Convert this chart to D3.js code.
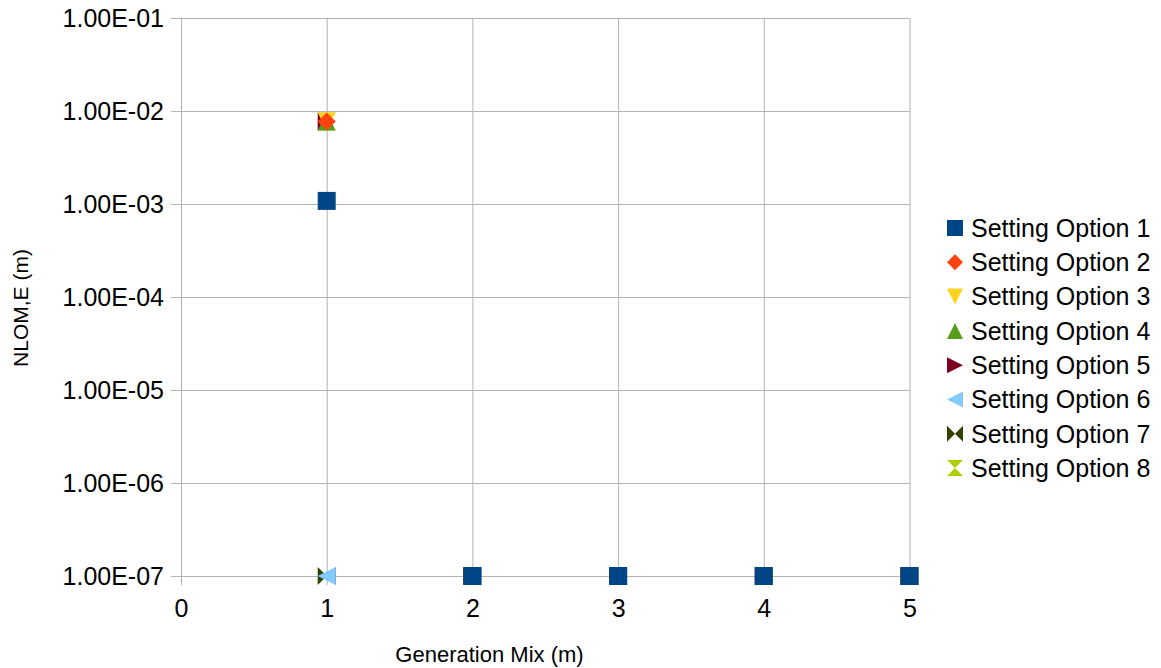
<!DOCTYPE html>
<html><head><meta charset="utf-8">
<script src="https://cdn.jsdelivr.net/npm/d3@7"></script>
<style>body{margin:0;background:#fff}svg{display:block;font-family:"Liberation Sans",Arial,sans-serif}</style>
</head><body><svg id="c" width="1161" height="668"></svg>
<script>
const seriesNames = ["Setting Option 1","Setting Option 2","Setting Option 3","Setting Option 4","Setting Option 5","Setting Option 6","Setting Option 7","Setting Option 8"];
const seriesColors = ["#004586","#ff420e","#ffd320","#579d1c","#7e0021","#83caff","#314004","#aecf00"];
const seriesShapes = ["square","diamond","down","up","right","left","bowtie","hourglass"];
const xValues = [1,2,3,4,5];
const s1 = [1.08e-3,1e-7,1e-7,1e-7,1e-7];
const s2 = [7.7e-3,1e-7,1e-7,1e-7,1e-7];
const s3 = [7.7e-3,1e-7,1e-7,1e-7,1e-7];
const s4 = [7.7e-3,1e-7,1e-7,1e-7,1e-7];
const s5 = [7.7e-3,1e-7,1e-7,1e-7,1e-7];
const s6 = [1e-7,1e-7,1e-7,1e-7,1e-7];
const s7 = [1e-7,1e-7,1e-7,1e-7,1e-7];
const s8 = [7.7e-3,1e-7,1e-7,1e-7,1e-7];
const seriesValues = [s1,s2,s3,s4,s5,s6,s7,s8];
const yTicks = [1e-7,1e-6,1e-5,1e-4,1e-3,1e-2,1e-1];
const xTicks = [0,1,2,3,4,5];

const svg = d3.select("#c");
const L=181,R=909.5,T=18,B=576;
const x = d3.scaleLinear().domain([0,5]).range([L,R]);
const y = d3.scaleLog().domain([1e-7,1e-1]).range([B,T]);
const grid="#b3b3b3";
const FF="Liberation Sans, Arial, sans-serif";

function shapePath(shape, h){
  switch(shape){
    case "square": return `M${-h},${-h}H${h}V${h}H${-h}Z`;
    case "diamond": return `M0,${-h}L${h},0L0,${h}L${-h},0Z`;
    case "down": return `M${-h},${-h}L${h},${-h}L0,${h}Z`;
    case "up": return `M${-h},${h}L${h},${h}L0,${-h}Z`;
    case "right": return `M${-h},${-h}L${h},0L${-h},${h}Z`;
    case "left": return `M${h},${-h}L${-h},0L${h},${h}Z`;
    case "bowtie": return `M${-h},${-h}L0,0L${-h},${h}ZM${h},${-h}L0,0L${h},${h}Z`;
    case "hourglass": return `M${-h},${-h}L${h},${-h}L0,0ZM${-h},${h}L${h},${h}L0,0Z`;
  }
}

// grid + y axis
const yAxis = d3.axisLeft(y).tickValues(yTicks).tickSize(-(R-L)).tickSizeOuter(0).tickPadding(17)
  .tickFormat(d=>d.toExponential(2).toUpperCase().replace(/E([+-])(\d)$/,"E$10$2"));
const gy = svg.append("g").attr("transform",`translate(${L},0)`).call(yAxis);
gy.select(".domain").remove();
gy.selectAll("line").attr("stroke",grid).attr("x1",-10);
gy.selectAll("text").attr("font-size",25).attr("fill","#000").attr("font-family",FF);

const xAxis = d3.axisBottom(x).tickValues(xTicks).tickSize(-(B-T)).tickSizeOuter(0).tickFormat(d3.format("d"));
const gx = svg.append("g").attr("transform",`translate(0,${B})`).call(xAxis);
gx.select(".domain").remove();
gx.selectAll("line").attr("stroke",grid).attr("y1",9);
gx.selectAll("text").attr("font-size",25).attr("fill","#000").attr("font-family",FF).attr("y",41).attr("dy",null);

// markers (drawn last series first)
for(let i=seriesNames.length-1;i>=0;i--){
  svg.append("g").selectAll("path").data(xValues.map((xv,j)=>[xv,seriesValues[i][j]]))
    .join("path")
    .attr("transform",d=>`translate(${x(d[0])},${y(d[1])})`)
    .attr("d",shapePath(seriesShapes[i],9))
    .attr("fill",seriesColors[i]);
}

// axis titles
svg.append("text").attr("x",489.5).attr("y",662).attr("text-anchor","middle")
  .attr("font-size",22).text("Generation Mix (m)");
svg.append("text").attr("transform",`translate(28,308) rotate(-90)`).attr("text-anchor","middle")
  .attr("font-size",21).text("NLOM,E (m)");

// legend
const lg = svg.append("g");
seriesNames.forEach((n,i)=>{
  const cy = 228 + i*34.3;
  lg.append("path").attr("transform",`translate(955,${cy})`).attr("d",shapePath(seriesShapes[i],8)).attr("fill",seriesColors[i]);
  lg.append("text").attr("x",971).attr("y",cy).attr("dy","0.35em").attr("font-size",25).text(n);
});
</script></body></html>
